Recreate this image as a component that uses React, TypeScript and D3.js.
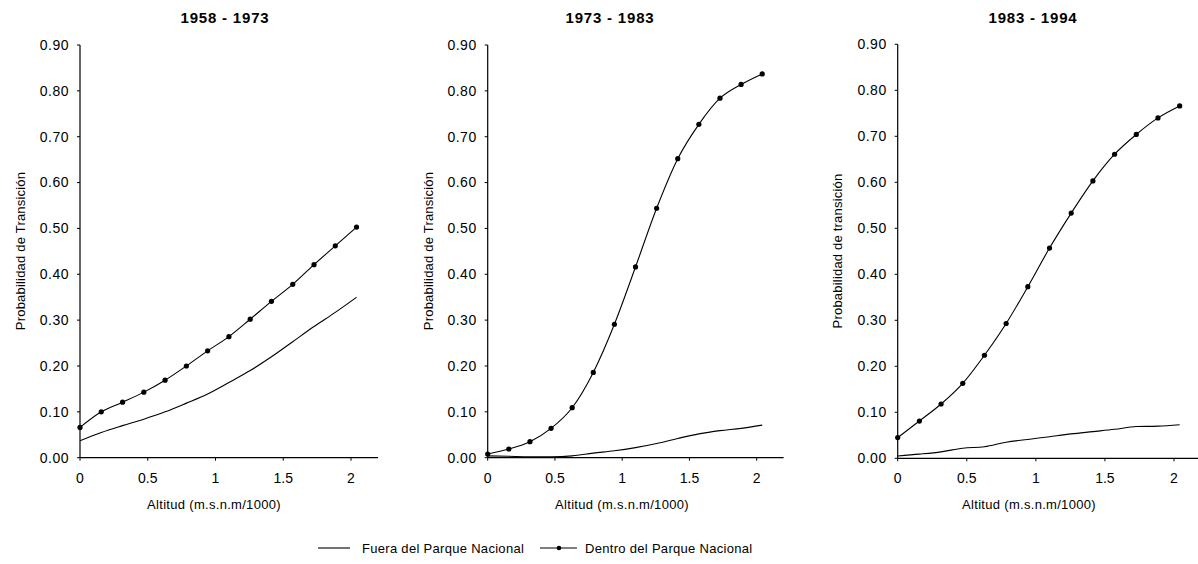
import React from "react";
import * as d3 from "d3";

const altitudes = [0, 0.157, 0.314, 0.471, 0.628, 0.785, 0.942, 1.099, 1.256, 1.413, 1.57, 1.727, 1.884, 2.041];

const titles = ["1958 - 1973", "1973 - 1983", "1983 - 1994"];
const yLabels = ["Probabilidad de Transición", "Probabilidad de Transición", "Probabilidad de transición"];
const xLabel = "Altitud (m.s.n.m/1000)";

const fuera1 = [0.037, 0.055, 0.07, 0.084, 0.1, 0.119, 0.139, 0.164, 0.19, 0.22, 0.253, 0.286, 0.317, 0.35];
const dentro1 = [0.066, 0.1, 0.121, 0.143, 0.169, 0.2, 0.233, 0.264, 0.302, 0.341, 0.378, 0.421, 0.462, 0.503];

const fuera2 = [0.004, 0.003, 0.002, 0.002, 0.004, 0.01, 0.015, 0.022, 0.031, 0.042, 0.052, 0.059, 0.064, 0.071];
const dentro2 = [0.008, 0.019, 0.035, 0.064, 0.109, 0.186, 0.291, 0.416, 0.544, 0.652, 0.727, 0.784, 0.814, 0.837];

const fuera3 = [0.005, 0.009, 0.014, 0.022, 0.025, 0.035, 0.041, 0.047, 0.053, 0.058, 0.063, 0.069, 0.07, 0.073];
const dentro3 = [0.045, 0.081, 0.118, 0.163, 0.224, 0.293, 0.373, 0.457, 0.533, 0.603, 0.661, 0.704, 0.74, 0.766];

const yTicks = [0, 0.1, 0.2, 0.3, 0.4, 0.5, 0.6, 0.7, 0.8, 0.9];
const xTicks = [0, 0.5, 1, 1.5, 2];

const legendLabels = ["Fuera del Parque Nacional", "Dentro del Parque Nacional"];

const panels = [
  { x0: 80, x2: 351, top: 45, bottom: 457.7, titleX: 225, yLabelX: 20, xLabelX: 214, fuera: fuera1, dentro: dentro1 },
  { x0: 487.7, x2: 756.7, top: 45, bottom: 457.7, titleX: 610, yLabelX: 428, xLabelX: 622, fuera: fuera2, dentro: dentro2 },
  { x0: 897.7, x2: 1174, top: 44.3, bottom: 458.3, titleX: 1033, yLabelX: 837, xLabelX: 1029, fuera: fuera3, dentro: dentro3 },
];

const FONT = "'Liberation Sans', Arial, sans-serif";

function Panel({ p, i }: { p: any; i: number }) {
  const unit = (p.x2 - p.x0) / 2;
  const x = d3.scaleLinear().domain([0, 2.2]).range([p.x0, p.x0 + unit * 2.2]);
  const y = d3.scaleLinear().domain([0, 0.9]).range([p.bottom, p.top]);
  const line = d3
    .line<number>()
    .x((_, k) => x(altitudes[k]))
    .y((v) => y(v))
    .curve(d3.curveMonotoneX);
  return (
    <g>
      <text x={p.titleX} y={23} textAnchor="middle" fontFamily={FONT} fontSize={15} fontWeight="bold" letterSpacing={0.8}>
        {titles[i]}
      </text>
      {/* y axis */}
      <line x1={x(0)} x2={x(0)} y1={y(0.9)} y2={y(0)} stroke="#000" strokeWidth={1.2} />
      {yTicks.map((t) => (
        <g key={t}>
          <line x1={x(0) - 3} x2={x(0)} y1={y(t)} y2={y(t)} stroke="#000" />
          <text x={x(0) - 11} y={y(t)} dy="0.35em" textAnchor="end" fontFamily={FONT} fontSize={14} letterSpacing={0.5}>
            {d3.format(".2f")(t)}
          </text>
        </g>
      ))}
      {/* x axis */}
      <line x1={x(0)} x2={x(2.2)} y1={y(0)} y2={y(0)} stroke="#000" strokeWidth={1.2} />
      {xTicks.map((t) => (
        <g key={t}>
          <line x1={x(t)} x2={x(t)} y1={y(0)} y2={y(0) + 3} stroke="#000" />
          <text x={x(t)} y={y(0) + 25} textAnchor="middle" fontFamily={FONT} fontSize={14}>
            {String(t)}
          </text>
        </g>
      ))}
      <text x={p.xLabelX} y={509} textAnchor="middle" fontFamily={FONT} fontSize={13} letterSpacing={0.3}>
        {xLabel}
      </text>
      <text
        transform={`translate(${p.yLabelX},251) rotate(-90)`}
        dy="0.35em"
        textAnchor="middle"
        fontFamily={FONT}
        fontSize={13}
        letterSpacing={0.2}
      >
        {yLabels[i]}
      </text>
      <path d={line(p.fuera) || ""} fill="none" stroke="#000" strokeWidth={1.1} />
      <path d={line(p.dentro) || ""} fill="none" stroke="#000" strokeWidth={1.1} />
      {p.dentro.map((v: number, k: number) => (
        <circle key={k} cx={x(altitudes[k])} cy={y(v)} r={2.6} fill="#000" />
      ))}
    </g>
  );
}

export default function App() {
  return (
    <svg width={1198} height={564} style={{ position: "absolute", left: 0, top: 0, background: "#fff" }}>
      <rect width={1198} height={564} fill="#fff" />
      {panels.map((p, i) => (
        <Panel key={i} p={p} i={i} />
      ))}
      <g fontFamily={FONT} fontSize={13}>
        <line x1={318} x2={350} y1={548} y2={548} stroke="#000" strokeWidth={1.1} />
        <text x={362} y={548} dy="0.35em" letterSpacing={0.3}>{legendLabels[0]}</text>
        <line x1={540} x2={577} y1={548} y2={548} stroke="#000" strokeWidth={1.1} />
        <circle cx={559} cy={548} r={2.3} fill="#000" />
        <text x={585} y={548} dy="0.35em" letterSpacing={0.3}>{legendLabels[1]}</text>
      </g>
    </svg>
  );
}
